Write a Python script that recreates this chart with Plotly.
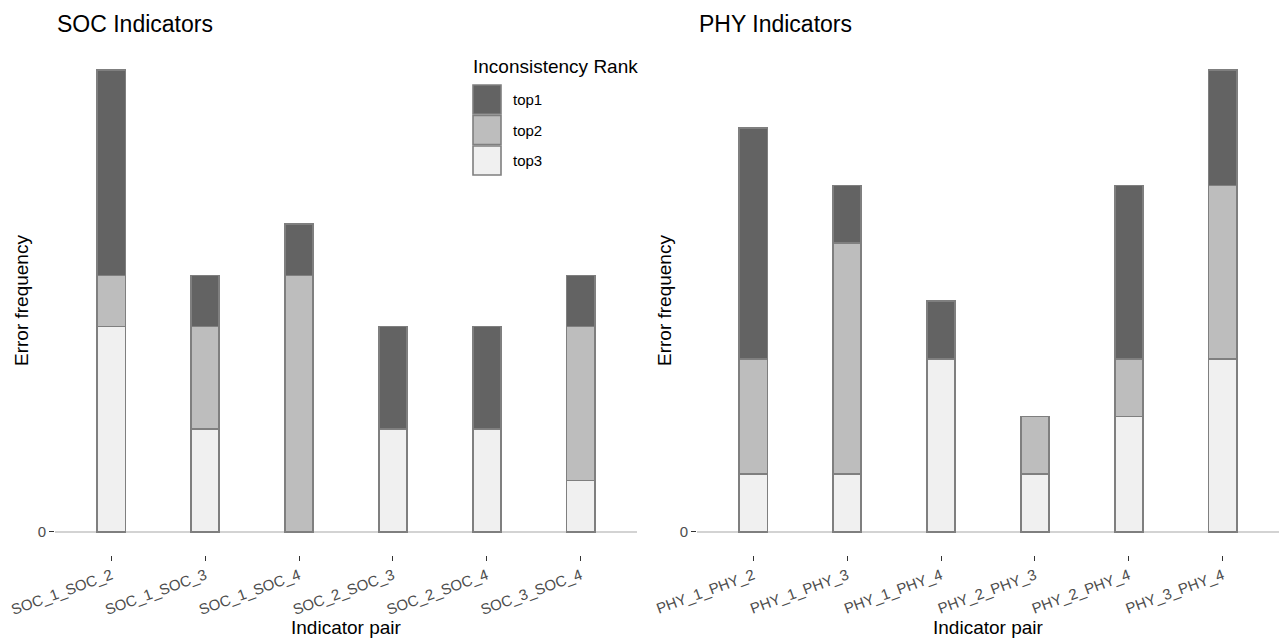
import plotly.graph_objects as go

W, H = 1279, 639

soc_pairs = ["SOC_1_SOC_2", "SOC_1_SOC_3", "SOC_1_SOC_4", "SOC_2_SOC_3", "SOC_2_SOC_4", "SOC_3_SOC_4"]
soc_top1 = [4, 1, 1, 2, 2, 1]
soc_top2 = [1, 2, 5, 0, 0, 3]
soc_top3 = [4, 2, 0, 2, 2, 1]

phy_pairs = ["PHY_1_PHY_2", "PHY_1_PHY_3", "PHY_1_PHY_4", "PHY_2_PHY_3", "PHY_2_PHY_4", "PHY_3_PHY_4"]
phy_top1 = [4, 1, 1, 0, 3, 2]
phy_top2 = [2, 4, 0, 1, 1, 3]
phy_top3 = [1, 1, 3, 1, 2, 3]

rank_names = ["top1", "top2", "top3"]
rank_colors = ["#636363", "#bdbdbd", "#f0f0f0"]
outline = "#7f7f7f"
FONT = "Liberation Sans, Arial, Helvetica, sans-serif"

fig = go.Figure()

def add_panel(pairs, series, xa, ya):
    # stack from bottom: top3, top2, top1
    for name, vals, col in reversed(list(zip(rank_names, series, rank_colors))):
        fig.add_trace(go.Bar(
            x=pairs, y=vals, name=name, width=0.3,
            marker=dict(color=col, line=dict(color=outline, width=1.6)),
            xaxis=xa, yaxis=ya, showlegend=False, hoverinfo="x+y+name",
        ))

add_panel(soc_pairs, [soc_top1, soc_top2, soc_top3], "x", "y")
add_panel(phy_pairs, [phy_top1, phy_top2, phy_top3], "x2", "y2")

soc_max = max(a + b + c for a, b, c in zip(soc_top1, soc_top2, soc_top3))
phy_max = max(a + b + c for a, b, c in zip(phy_top1, phy_top2, phy_top3))

ydom = [(H - 555) / H, (H - 47) / H]
xdom1 = [55 / W, 637 / W]
xdom2 = [697 / W, 1.0]

xaxis_common = dict(
    range=[-0.6, 5.6], showgrid=False, showline=False, zeroline=False,
    ticks="outside", ticklen=5, tickwidth=1.2, tickcolor="#333333",
    tickangle=-20, tickfont=dict(family=FONT, size=15, color="#4d4d4d"),
    automargin=False, fixedrange=True,
)
yaxis_common = dict(
    showgrid=False, showline=False, zeroline=True, zerolinecolor="#d3d3d3",
    zerolinewidth=1.5, tickvals=[0], ticktext=["0"], ticks="outside",
    ticklen=5, tickwidth=1.2, tickcolor="#333333",
    tickfont=dict(family=FONT, size=15, color="#4d4d4d"),
    automargin=False, fixedrange=True, domain=ydom,
)

fig.update_layout(
    width=W, height=H, margin=dict(l=0, r=0, t=0, b=0),
    plot_bgcolor="white", paper_bgcolor="white", barmode="stack",
    showlegend=False,
    xaxis=dict(domain=xdom1, anchor="y", **xaxis_common),
    xaxis2=dict(domain=xdom2, anchor="y2", **xaxis_common),
    yaxis=dict(anchor="x", range=[-0.05 * soc_max, 1.05 * soc_max], **yaxis_common),
    yaxis2=dict(anchor="x2", range=[-0.05 * phy_max, 1.05 * phy_max], **yaxis_common),
    font=dict(family=FONT),
)

ann = []
# panel titles
for txt, px in [("SOC Indicators", 55), ("PHY Indicators", 697)]:
    ann.append(dict(text=txt, x=px / W, y=1 - 24 / H, xref="paper", yref="paper",
                    xanchor="left", yanchor="middle", showarrow=False,
                    font=dict(family=FONT, size=23, color="black")))
# axis titles
for cx in [(xdom1[0] + xdom1[1]) / 2, (xdom2[0] + xdom2[1]) / 2]:
    ann.append(dict(text="Indicator pair", x=cx, y=1 - 627 / H, xref="paper", yref="paper",
                    xanchor="center", yanchor="middle", showarrow=False,
                    font=dict(family=FONT, size=19, color="black")))
for px in [22, 665]:
    ann.append(dict(text="Error frequency", x=px / W, y=(ydom[0] + ydom[1]) / 2, xref="paper", yref="paper",
                    xanchor="center", yanchor="middle", showarrow=False, textangle=-90,
                    font=dict(family=FONT, size=19, color="black")))

# legend (drawn manually to match swatch size)
ann.append(dict(text="Inconsistency Rank", x=471 / W, y=1 - 67 / H, xref="paper", yref="paper",
                xanchor="left", yanchor="middle", showarrow=False,
                font=dict(family=FONT, size=19, color="black")))
shapes = []
for i, (name, col) in enumerate(zip(rank_names, rank_colors)):
    top = 85 + i * 30.5
    shapes.append(dict(type="rect", xref="paper", yref="paper",
                       x0=473 / W, x1=501 / W, y0=1 - (top + 29) / H, y1=1 - top / H,
                       fillcolor=col, line=dict(color=outline, width=1.6)))
    ann.append(dict(text=name, x=511 / W, y=1 - (top + 14.5) / H, xref="paper", yref="paper",
                    xanchor="left", yanchor="middle", showarrow=False,
                    font=dict(family=FONT, size=15, color="black")))

fig.update_layout(annotations=ann, shapes=shapes)
fig.write_html("out.html")
